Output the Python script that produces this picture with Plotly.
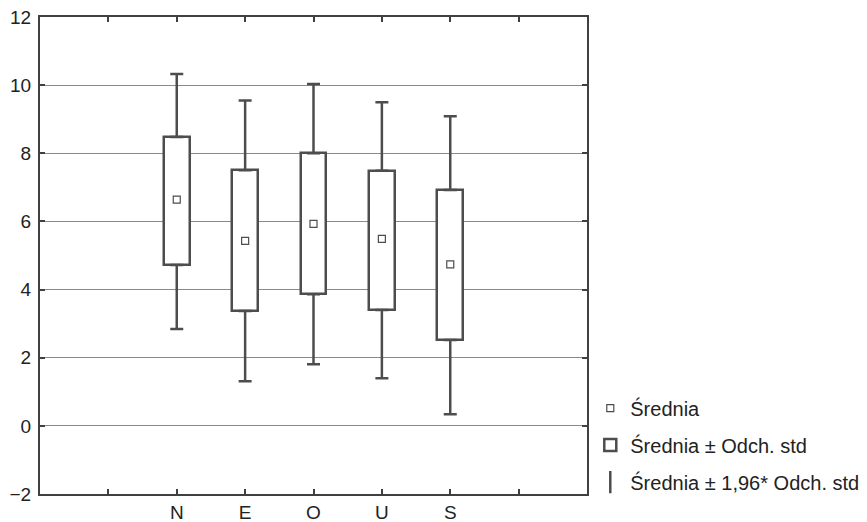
import plotly.graph_objects as go

categories = ["N", "E", "O", "U", "S"]
positions = [2, 3, 4, 5, 6]
means = [6.64, 5.43, 5.93, 5.49, 4.74]
sd_low = [4.72, 3.37, 3.86, 3.40, 2.52]
sd_high = [8.48, 7.50, 8.00, 7.49, 6.92]
ci_low = [2.84, 1.31, 1.81, 1.40, 0.34]
ci_high = [10.33, 9.55, 10.03, 9.50, 9.09]

tick_vals = [1, 2, 3, 4, 5, 6, 7]
tick_text = ["", "N", "E", "O", "U", "S", ""]

LINE = "#4d4d4d"
FONT = "Liberation Sans, Arial, sans-serif"

fig = go.Figure()

# upper whiskers (from box top to upper limit)
fig.add_trace(go.Scatter(
    x=positions, y=sd_high, mode="markers",
    marker=dict(size=1, color="rgba(0,0,0,0)"),
    error_y=dict(type="data", symmetric=False,
                 array=[h - t for h, t in zip(ci_high, sd_high)],
                 arrayminus=[0] * len(positions),
                 color=LINE, thickness=2.5, width=6.5),
    showlegend=False, hoverinfo="skip"))
# lower whiskers
fig.add_trace(go.Scatter(
    x=positions, y=sd_low, mode="markers",
    marker=dict(size=1, color="rgba(0,0,0,0)"),
    error_y=dict(type="data", symmetric=False,
                 array=[0] * len(positions),
                 arrayminus=[b - l for b, l in zip(sd_low, ci_low)],
                 color=LINE, thickness=2.5, width=6.5),
    showlegend=False, hoverinfo="skip"))

# boxes (mean ± sd)
fig.add_trace(go.Bar(
    x=positions, y=[h - l for h, l in zip(sd_high, sd_low)], base=sd_low,
    width=0.38, marker=dict(color="white", line=dict(color=LINE, width=2.5)),
    name="Średnia ± Odch. std", legendgroup="b", legendrank=2, hoverinfo="skip"))

# means
fig.add_trace(go.Scatter(
    x=positions, y=means, mode="markers",
    marker=dict(symbol="square-open", size=7, color=LINE, line=dict(width=1.2)),
    name="Średnia", legendgroup="a", legendrank=1))

# legend entry for the whiskers
fig.add_trace(go.Scatter(
    x=[None], y=[None], mode="markers",
    marker=dict(symbol="line-ns-open", size=16, color=LINE, line=dict(width=2.5, color=LINE)),
    name="Średnia ± 1,96* Odch. std", legendgroup="c", legendrank=3))

fig.update_layout(
    width=867, height=522,
    margin=dict(l=40, r=280, t=17, b=28, autoexpand=False),
    paper_bgcolor="white", plot_bgcolor="white",
    font=dict(family=FONT, size=19, color="#222222"),
    showlegend=True,
    legend=dict(x=1.006, xanchor="left", y=0.221, yanchor="top",
                font=dict(size=20), tracegroupgap=8,
                bgcolor="rgba(0,0,0,0)"),
    bargap=0,
)
fig.update_xaxes(range=[0, 8], tickvals=tick_vals, ticktext=tick_text,
                 showgrid=False, zeroline=False, automargin=False,
                 showline=True, linecolor="#404040", linewidth=2, mirror="ticks",
                 ticks="inside", ticklen=5, tickwidth=1.5, tickcolor="#404040")
fig.update_yaxes(range=[-2, 12], dtick=2, showgrid=True, gridcolor="#8a8a8a", gridwidth=1,
                 zeroline=False, automargin=False, ticklabelstandoff=3,
                 ticklabeloverflow="allow",
                 showline=True, linecolor="#404040", linewidth=2, mirror="ticks",
                 ticks="inside", ticklen=5, tickwidth=1.5, tickcolor="#404040")

fig.write_html("out.html", config={"displayModeBar": False},
               post_script="document.body.style.margin='0';document.body.style.overflow='hidden';")
